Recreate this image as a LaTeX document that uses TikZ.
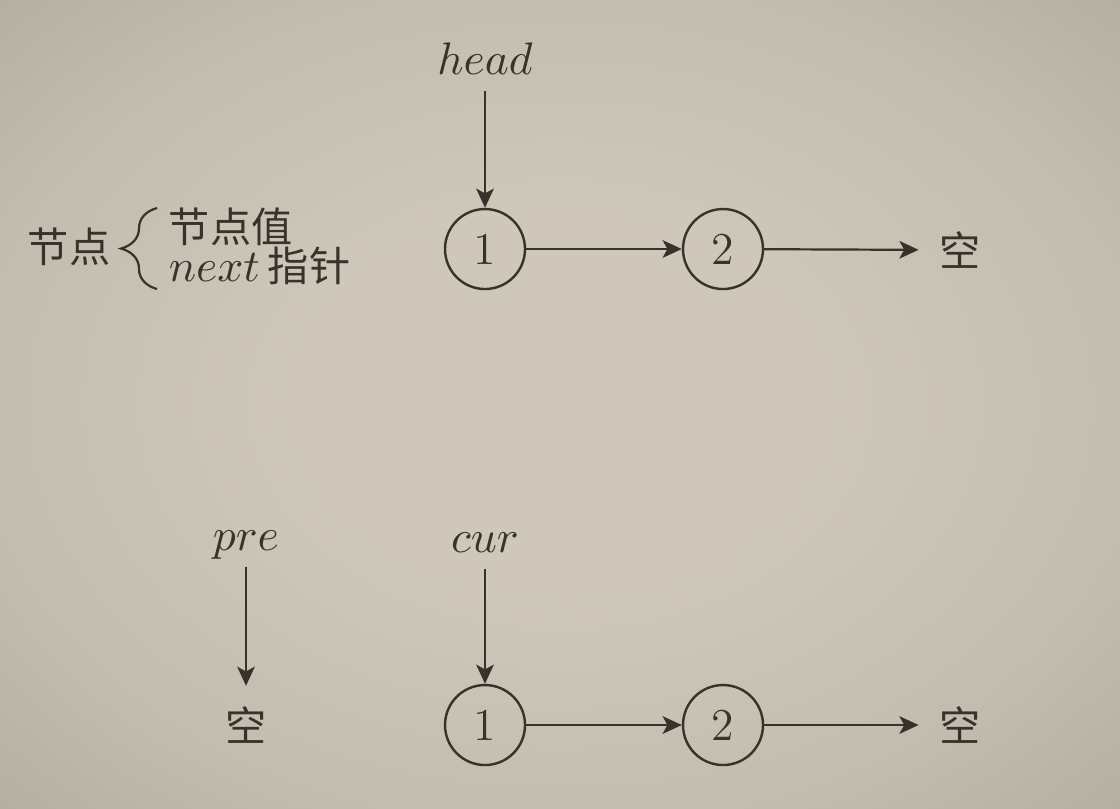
\RequirePackage{fix-cm}
\documentclass[tikz,border=0pt]{standalone}
\usepackage{fontspec}
\newfontfamily\cjk{Noto Sans CJK SC}
\usetikzlibrary{arrows.meta,decorations.pathreplacing}
\definecolor{ink}{RGB}{55,51,44}
\definecolor{bgin}{RGB}{207,200,186}
\definecolor{bgmid}{RGB}{194,188,174}
\definecolor{bgout}{RGB}{180,174,162}
\pgfdeclareradialshading{paper}{\pgfpointorigin}{color(0bp)=(bgin); color(12bp)=(bgin); color(27bp)=(bgmid); color(36bp)=(bgout); color(50bp)=(bgout)}
\begin{document}
\begin{tikzpicture}[x=0.25pt,y=-0.25pt,
  every node/.style={text=ink,font=\fontsize{11.4}{13}\selectfont},
  cell/.style={draw=ink,line width=0.6pt,circle,minimum size=20pt,inner sep=0pt},
  zh/.style={font=\fontsize{10.3}{12}\selectfont\cjk,inner sep=0pt},
  nil/.style={zh,inner sep=5pt},
  var/.style={inner sep=0pt,text depth=0pt,anchor=base},
  arr/.style={draw=ink,line width=0.55pt,-{Stealth[length=4.8pt,width=4.4pt,inset=1.2pt]}}]
\shade[shading=paper] (0,0) rectangle (1120,808);
% node = value + next pointer
\node[zh] (node) at (69,247) {节点};
\node[zh,anchor=west] (val) at (168,227) {节点值};
\node[anchor=base west,inner sep=0pt] (ptr) at (168,281) {$next$\hspace{2pt}{\cjk\fontsize{10.3}{12}\selectfont 指针}};
\draw[ink,line width=0.55pt,decorate,decoration={brace,amplitude=9pt,aspect=0.5}] (157,289) -- (157,208);
% list with head
\node[var] (head) at (485,74) {$head$};
\node[cell] (a1) at (485,249) {1};
\node[cell] (a2) at (723,249) {2};
\node[nil] (anil) at (960,250) {空};
\draw[arr,shorten <=4pt] (head) -- (a1);
\draw[arr] (a1) -- (a2);
\draw[arr] (a2) -- (anil);
% pre / cur
\node[var] (pre) at (246,550) {$pre$};
\node[nil] (pnil) at (246,725) {空};
\node[var] (cur) at (485,552) {$cur$};
\node[cell] (b1) at (485,725) {1};
\node[cell] (b2) at (723,725) {2};
\node[nil] (bnil) at (960,725) {空};
\draw[arr,shorten <=4pt] (pre) -- (pnil);
\draw[arr,shorten <=4pt] (cur) -- (b1);
\draw[arr] (b1) -- (b2);
\draw[arr] (b2) -- (bnil);
\end{tikzpicture}
\end{document}
